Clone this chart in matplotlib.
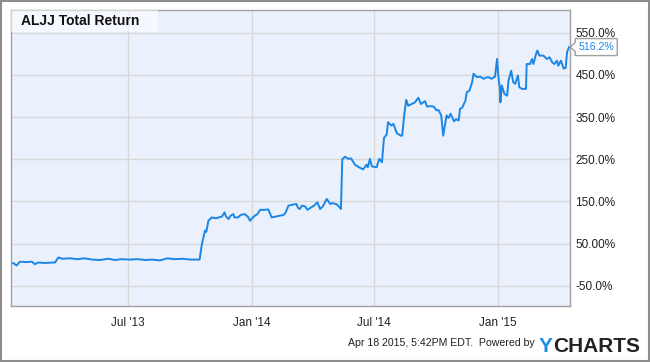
import matplotlib
matplotlib.use('Agg')
import matplotlib.pyplot as plt
import matplotlib.dates as mdates
from matplotlib.patches import Rectangle, Polygon
from matplotlib.transforms import IdentityTransform
import pandas as pd

plt.rcParams['font.family'] = ['Liberation Sans', 'DejaVu Sans']

# ALJJ total return, %
dates = [
    '2013-01-07', '2013-01-11', '2013-01-16', '2013-01-21', '2013-01-31', '2013-02-08',
    '2013-02-12', '2013-02-17', '2013-02-27', '2013-03-10', '2013-03-14', '2013-03-19',
    '2013-03-25', '2013-04-05', '2013-04-17', '2013-04-27', '2013-05-08', '2013-05-20',
    '2013-06-01', '2013-06-11', '2013-06-21', '2013-07-03', '2013-07-15', '2013-07-26',
    '2013-08-05', '2013-08-17', '2013-08-28', '2013-09-08', '2013-09-20', '2013-10-01',
    '2013-10-15', '2013-10-18', '2013-10-20', '2013-10-23', '2013-10-25', '2013-10-28',
    '2013-11-02', '2013-11-08', '2013-11-17', '2013-11-21', '2013-11-23', '2013-11-27',
    '2013-11-30', '2013-12-04', '2013-12-06', '2013-12-11', '2013-12-15', '2013-12-21',
    '2013-12-26', '2013-12-29', '2014-01-01', '2014-01-05', '2014-01-09', '2014-01-13',
    '2014-01-19', '2014-01-25', '2014-01-28', '2014-01-30', '2014-02-05', '2014-02-11',
    '2014-02-17', '2014-02-20', '2014-02-24', '2014-03-01', '2014-03-08', '2014-03-10',
    '2014-03-13', '2014-03-16', '2014-03-21', '2014-03-24', '2014-03-28', '2014-04-03',
    '2014-04-08', '2014-04-12', '2014-04-16', '2014-04-22', '2014-04-27', '2014-05-01',
    '2014-05-07', '2014-05-13', '2014-05-15', '2014-05-19', '2014-05-24', '2014-05-28',
    '2014-06-03', '2014-06-10', '2014-06-15', '2014-06-20', '2014-06-22', '2014-06-25',
    '2014-06-28', '2014-07-05', '2014-07-09', '2014-07-13', '2014-07-16', '2014-07-20',
    '2014-07-22', '2014-07-27', '2014-07-30', '2014-08-04', '2014-08-10', '2014-08-12',
    '2014-08-15', '2014-08-18', '2014-08-21', '2014-08-26', '2014-08-31', '2014-09-05',
    '2014-09-09', '2014-09-15', '2014-09-18', '2014-09-23', '2014-09-28', '2014-10-02',
    '2014-10-05', '2014-10-09', '2014-10-12', '2014-10-17', '2014-10-20', '2014-10-23',
    '2014-10-28', '2014-10-31', '2014-11-04', '2014-11-06', '2014-11-09', '2014-11-14',
    '2014-11-16', '2014-11-20', '2014-11-24', '2014-11-26', '2014-12-01', '2014-12-06',
    '2014-12-11', '2014-12-15', '2014-12-18', '2014-12-23', '2014-12-28', '2014-12-31',
    '2015-01-02', '2015-01-04', '2015-01-05', '2015-01-07', '2015-01-11', '2015-01-15',
    '2015-01-17', '2015-01-21', '2015-01-24', '2015-01-27', '2015-01-31', '2015-02-02',
    '2015-02-06', '2015-02-12', '2015-02-13', '2015-02-18', '2015-02-21', '2015-02-23',
    '2015-02-27', '2015-03-01', '2015-03-04', '2015-03-10', '2015-03-15', '2015-03-19',
    '2015-03-23', '2015-03-26', '2015-03-30', '2015-04-01', '2015-04-05', '2015-04-09',
    '2015-04-12', '2015-04-14', '2015-04-17',
]
total_return = [
    3, 4, -2, 7, 6, 7,
    1, 5, 4, 5, 5, 17,
    14, 15, 13, 15, 12, 11,
    14, 11, 13, 12, 13, 11,
    12, 10, 15, 13, 14, 12,
    12, 45, 60, 81, 78, 104,
    112, 110, 114, 124, 115, 108,
    116, 120, 112, 112, 118, 120,
    113, 104, 110, 116, 120, 130,
    130, 131, 120, 112, 114, 116,
    118, 124, 140, 142, 144, 135,
    132, 140, 138, 130, 134, 140,
    148, 132, 138, 156, 144, 146,
    143, 132, 250, 256, 251, 252,
    237, 230, 226, 237, 231, 251,
    233, 231, 251, 243, 301, 309,
    338, 330, 334, 312, 306, 306,
    354, 391, 377, 381, 385, 396,
    381, 388, 375, 376, 375, 366,
    367, 354, 306, 354, 348, 358,
    340, 345, 342, 370, 372, 389,
    409, 413, 433, 453, 445, 446,
    441, 444, 445, 441, 446, 488,
    445, 421, 385, 425, 405, 401,
    437, 460, 433, 429, 449, 421,
    417, 417, 476, 476, 488, 476,
    500, 508, 496, 496, 488, 492,
    480, 476, 484, 472, 484, 465,
    467, 504, 516.2,
]
last_label = '516.2%'

y_ticks = [-50, 50, 150, 250, 350, 450, 550]
y_tick_labels = ['-50.0%', '50.00%', '150.0%', '250.0%', '350.0%', '450.0%', '550.0%']
x_ticks = ['2013-07-01', '2014-01-01', '2014-07-01', '2015-01-01']
x_tick_labels = ["Jul '13", "Jan '14", "Jul '14", "Jan '15"]

fig = plt.figure(figsize=(6.5, 3.62), dpi=100)
ax = fig.add_axes([0.0162, 0.156, 0.8603, 0.815])
ax.set_facecolor('#eaf1fd')

ax.plot(pd.to_datetime(dates), total_return, color='#1a86e6', linewidth=1.4)

ax.set_xlim(pd.Timestamp('2013-01-07'), pd.Timestamp('2015-04-18'))
ax.set_ylim(-97, 603)

ax.set_xticks(pd.to_datetime(x_ticks))
ax.set_xticklabels(x_tick_labels)
ax.set_yticks(y_ticks)
ax.set_yticklabels(y_tick_labels)
ax.yaxis.tick_right()
ax.tick_params(axis='y', length=0, pad=4, labelsize=8.5, labelcolor='#222222')
ax.tick_params(axis='x', length=0, pad=8, labelsize=8.5, labelcolor='#222222')

ax.grid(True, color='#d8d8d8', linewidth=1)
ax.set_axisbelow(True)
for s in ax.spines.values():
    s.set_color('#a0a0a0')
    s.set_linewidth(1)

# title box in the top left corner
ax.add_patch(Rectangle((0, 0.926), 0.263, 0.074, transform=ax.transAxes,
                       facecolor='white', alpha=0.55, edgecolor='none', zorder=3))
ax.text(0.0185, 0.963, 'ALJJ Total Return', transform=ax.transAxes, fontsize=10,
        fontweight='bold', color='#111111', va='center', ha='left', zorder=4)

# last value flag at the right edge
x0 = ax.transAxes.transform((1, 0))[0]
y0 = ax.transData.transform((0, total_return[-1]))[1]
flag = Polygon([(x0 + 0.5, y0), (x0 + 5.5, y0 + 4.5), (x0 + 5.5, y0 + 8.5),
                (x0 + 47.5, y0 + 8.5), (x0 + 47.5, y0 - 8.5), (x0 + 5.5, y0 - 8.5),
                (x0 + 5.5, y0 - 4.5)], closed=True, transform=IdentityTransform(),
               facecolor='white', edgecolor='#a0a0a0', linewidth=1)
fig.add_artist(flag)
fig.text(x0 + 26.5, y0, last_label, transform=IdentityTransform(), fontsize=7.6,
         color='#1a86e6', ha='center', va='center')

# footer
fig.text(535, 16, 'Apr 18 2015, 5:42PM EDT.  Powered by', transform=IdentityTransform(),
         fontsize=7.6, color='#222222', ha='right', va='baseline')
fig.text(539, 9.5, 'Y', transform=IdentityTransform(), fontsize=15, fontweight='bold',
         color='#1d8fe3', ha='left', va='baseline')
fig.text(553, 9.5, 'CHARTS', transform=IdentityTransform(), fontsize=15, fontweight='bold',
         color='#222222', ha='left', va='baseline')

# outer frame
fig.add_artist(Rectangle((1, 1), 648, 360, transform=IdentityTransform(), fill=False,
                         edgecolor='#8c8c8c', linewidth=1.5))

fig.savefig('out.png', dpi=100)
